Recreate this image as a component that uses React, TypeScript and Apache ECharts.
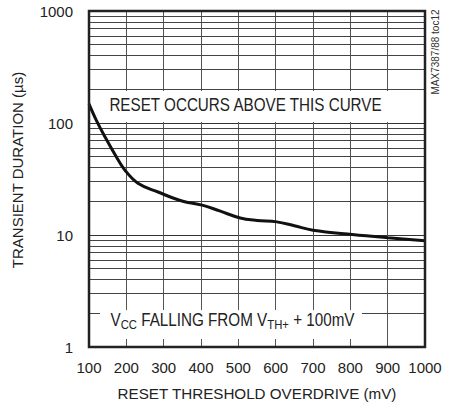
import React, { useEffect, useRef } from "react";
import * as echarts from "echarts";

const overdriveMv = [100, 120, 143, 170, 196, 231, 285, 349, 403, 450, 505, 550, 603, 650, 700, 805, 901, 1000];
const durationUs = [148, 105, 75, 52, 38, 29, 24.2, 20.1, 18.5, 16.4, 14.2, 13.5, 13.1, 12.1, 11.05, 10.1, 9.45, 8.9];
const minorGridValues = [2, 3, 4, 5, 6, 7, 8, 9, 20, 30, 40, 50, 60, 70, 80, 90, 200, 300, 400, 500, 600, 700, 800, 900];
const yTickLabels = ["1", "10", "100", "1000"];

const FONT = "'Liberation Sans', Arial, sans-serif";

export default function App() {
  const ref = useRef<HTMLDivElement>(null);
  useEffect(() => {
    document.body.style.margin = "0";
    const chart = echarts.init(ref.current!, null, { renderer: "svg" });
    chart.setOption({
      animation: false,
      backgroundColor: "#fff",
      grid: {
        left: 89,
        top: 11,
        right: 31,
        bottom: 66,
        show: true,
        borderColor: "#222",
        borderWidth: 2.5,
        backgroundColor: "transparent",
        z: 6,
      },
      xAxis: {
        type: "value",
        min: 100,
        max: 1000,
        interval: 100,
        name: "RESET THRESHOLD OVERDRIVE (mV)",
        nameLocation: "middle",
        nameGap: 39,
        nameTextStyle: { fontSize: 15.2, color: "#222", fontFamily: FONT },
        axisLine: { show: false },
        axisTick: { show: false },
        axisLabel: {
          fontSize: 15,
          color: "#222",
          margin: 13,
          fontFamily: FONT,
          formatter: (v: number) => String(v),
        },
        splitLine: { show: true, lineStyle: { color: "#555", width: 1 } },
      },
      yAxis: {
        type: "log",
        min: 1,
        max: 1000,
        logBase: 10,
        axisLine: { show: false },
        axisTick: { show: false },
        axisLabel: {
          fontSize: 15,
          color: "#222",
          margin: 16,
          fontFamily: FONT,
          formatter: (v: number) => {
            const i = Math.round(Math.log10(v));
            return yTickLabels[i] ?? String(v);
          },
        },
        splitLine: { show: true, lineStyle: { color: "#333", width: 1 } },
      },
      series: [
        {
          type: "line",
          data: overdriveMv.map((x, i) => [x, durationUs[i]]),
          smooth: 0.4,
          showSymbol: false,
          lineStyle: { color: "#111", width: 3 },
          z: 3,
          markLine: {
            silent: true,
            symbol: "none",
            label: { show: false },
            lineStyle: { color: "#444", width: 1, type: "solid" },
            z: 1,
            data: minorGridValues.map((v) => ({ yAxis: v })),
          },
        },
      ],
      graphic: [
        { type: "rect", shape: { x: 100, y: 91, width: 295, height: 31 }, style: { fill: "#fff" }, z: 10 },
        { type: "rect", shape: { x: 100, y: 310, width: 262, height: 29 }, style: { fill: "#fff" }, z: 10 },
        {
          type: "text",
          x: 245.5,
          y: 105,
          scaleX: 0.87,
          z: 11,
          style: {
            text: "RESET OCCURS ABOVE THIS CURVE",
            fontSize: 17.5,
            fontFamily: FONT,
            fill: "#222",
            align: "center",
            verticalAlign: "middle",
          },
        },
        {
          type: "text",
          x: 232.5,
          y: 321,
          scaleX: 0.87,
          z: 11,
          style: {
            text: "{n|V}{s|CC}{n| FALLING FROM V}{s|TH+}{n| + 100mV}",
            fill: "#222",
            align: "center",
            verticalAlign: "middle",
            rich: {
              n: { fontSize: 17.5, fontFamily: FONT, lineHeight: 20, verticalAlign: "top", fill: "#222" },
              s: { fontSize: 13, fontFamily: FONT, lineHeight: 12, verticalAlign: "bottom", fill: "#222" },
            },
          },
        },
        {
          type: "text",
          x: 17,
          y: 170,
          rotation: Math.PI / 2,
          z: 11,
          style: {
            text: "TRANSIENT DURATION (µs)",
            fontSize: 15,
            fontFamily: FONT,
            fill: "#222",
            align: "center",
            verticalAlign: "middle",
          },
        },
        {
          type: "text",
          x: 435,
          y: 52,
          rotation: Math.PI / 2,
          z: 11,
          style: {
            text: "MAX7387/88 toc12",
            fontSize: 10,
            fontFamily: FONT,
            fill: "#333",
            align: "center",
            verticalAlign: "middle",
          },
        },
      ],
    });
    return () => chart.dispose();
  }, []);
  return <div ref={ref} style={{ width: 456, height: 413 }} />;
}
